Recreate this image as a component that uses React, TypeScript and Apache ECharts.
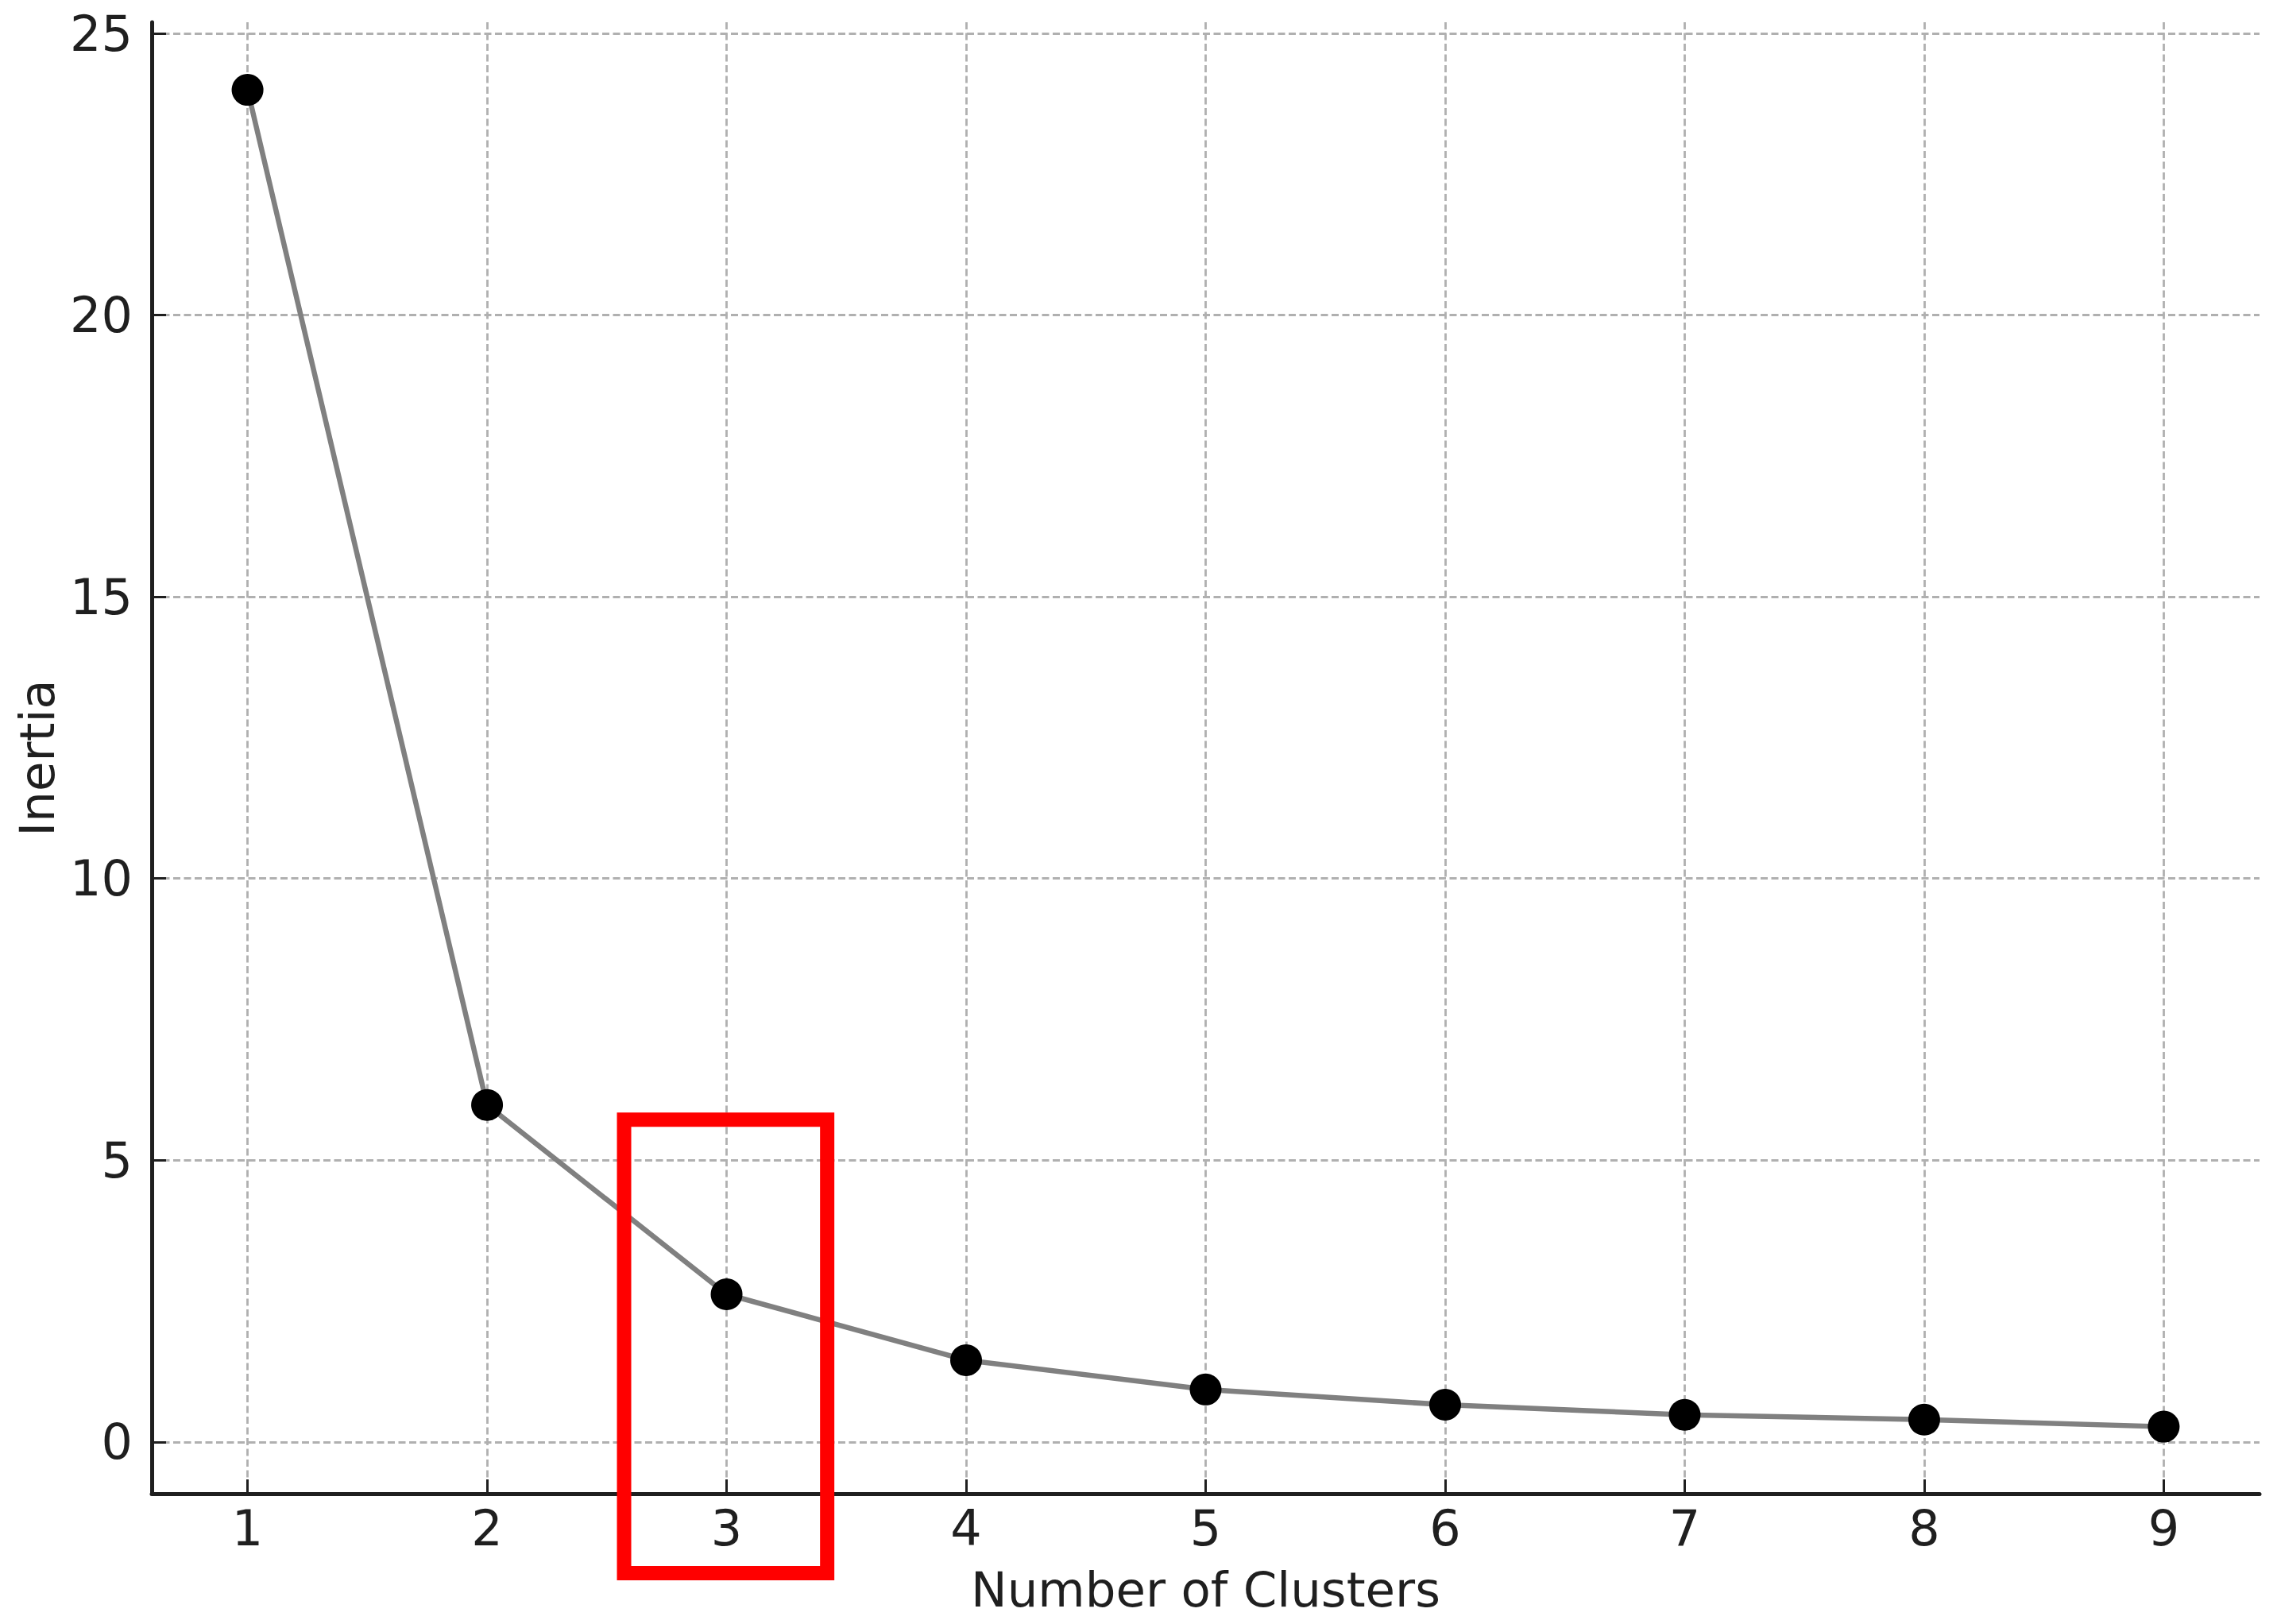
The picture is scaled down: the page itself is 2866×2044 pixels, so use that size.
import React, { useEffect, useRef } from "react";
import * as echarts from "echarts";

const CLUSTERS = [1, 2, 3, 4, 5, 6, 7, 8, 9];
const INERTIA = [24, 5.98, 2.62, 1.45, 0.93, 0.66, 0.48, 0.395, 0.27];
const X_TICKS = [1, 2, 3, 4, 5, 6, 7, 8, 9];
const Y_TICKS = [0, 5, 10, 15, 20, 25];
const X_RANGE = [0.6, 9.4];
const Y_RANGE = [-0.92, 25.2];
// highlight box around k = 3, in data units
const BOX_X = [2.572, 3.42];
const BOX_Y = [-2.33, 5.72];

const FONT = "DejaVu Sans";
const TEXT = "#1f1f1f";

export default function App() {
  const ref = useRef<HTMLDivElement>(null);
  useEffect(() => {
    const chart = echarts.init(ref.current!, null, { renderer: "svg" });
    const axisCommon = {
      type: "value",
      axisLine: { show: true, onZero: false, lineStyle: { color: TEXT, width: 5 } },
      splitLine: { show: true, lineStyle: { color: "#b0b0b0", width: 2.8, type: [9, 4.5] } },
      nameLocation: "middle",
      nameTextStyle: { fontFamily: FONT, fontSize: 61, color: TEXT },
    };
    chart.setOption({
      animation: false,
      backgroundColor: "#ffffff",
      grid: { left: 191, right: 22, top: 28, bottom: 164, containLabel: false },
      xAxis: {
        ...axisCommon,
        min: X_RANGE[0],
        max: X_RANGE[1],
        name: "Number of Clusters",
        nameGap: 90,
        axisTick: { show: true, inside: true, length: 18, customValues: X_TICKS, lineStyle: { color: TEXT, width: 3 } },
        axisLabel: { customValues: X_TICKS, margin: 12, fontFamily: FONT, fontSize: 62, color: TEXT },
      },
      yAxis: {
        ...axisCommon,
        min: Y_RANGE[0],
        max: Y_RANGE[1],
        name: "Inertia",
        nameGap: 113,
        axisTick: { show: true, inside: true, length: 18, customValues: Y_TICKS, lineStyle: { color: TEXT, width: 3 } },
        axisLabel: { customValues: Y_TICKS, margin: 24, fontFamily: FONT, fontSize: 62, color: TEXT },
      },
      series: [
        {
          type: "line",
          data: CLUSTERS.map((c, i) => [c, INERTIA[i]]),
          symbol: "circle",
          symbolSize: 40,
          itemStyle: { color: "#000000" },
          lineStyle: { color: "#808080", width: 6.5 },
          z: 3,
        },
      ],
    });
    const p1 = chart.convertToPixel({ gridIndex: 0 }, [BOX_X[0], BOX_Y[1]]) as number[];
    const p2 = chart.convertToPixel({ gridIndex: 0 }, [BOX_X[1], BOX_Y[0]]) as number[];
    chart.setOption({
      graphic: [
        {
          type: "rect",
          z: 100,
          shape: { x: p1[0], y: p1[1], width: p2[0] - p1[0], height: p2[1] - p1[1] },
          style: { fill: "none", stroke: "#ff0000", lineWidth: 18 },
        },
      ],
    });
    return () => chart.dispose();
  }, []);
  return (
    <div
      ref={ref}
      style={{ position: "absolute", left: 0, top: 0, width: 2866, height: 2044, background: "#fff" }}
    />
  );
}
